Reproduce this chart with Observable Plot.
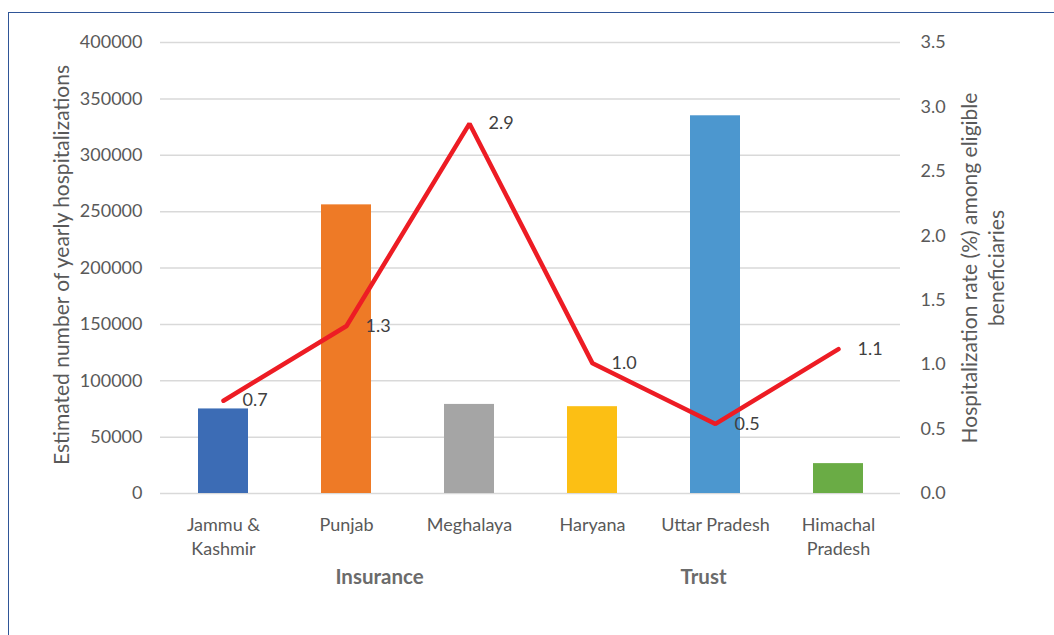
<!DOCTYPE html>
<html><head><meta charset="utf-8">
<script src="https://cdn.jsdelivr.net/npm/d3@7"></script>
<script src="https://cdn.jsdelivr.net/npm/@observablehq/plot@0.6"></script>
<style>
body{margin:0;background:#fff;}
#wrap{position:relative;width:1054px;height:635px;overflow:hidden;}
#frame{position:absolute;left:8px;top:12px;width:1200px;height:800px;border-top:1.5px solid #2F5597;border-left:1.5px solid #2F5597;pointer-events:none;}
#chart{position:absolute;left:0;top:0;}
</style></head>
<body><div id="wrap"><div id="chart"></div><div id="frame"></div></div>
<script>
const states = ["Jammu & Kashmir","Punjab","Meghalaya","Haryana","Uttar Pradesh","Himachal Pradesh"];
const stateLabels = ["Jammu &\nKashmir","Punjab","Meghalaya","Haryana","Uttar Pradesh","Himachal\nPradesh"];
const hospitalizations = [75000,256000,79000,77000,335000,26500];
const rates = [0.72,1.30,2.87,1.01,0.54,1.12];
const groupNames = ["Insurance","Trust"];
const groupAnchors = ["Punjab","Uttar Pradesh"];
const leftTicks = [0,50000,100000,150000,200000,250000,300000,350000,400000];
const rightTicks = [0,0.5,1.0,1.5,2.0,2.5,3.0,3.5];
const barColors = ["#3C6CB5","#EE7A26","#A5A5A5","#FCBF14","#4C97CF","#6AAC45"];

const leftMax = 400000, rightMax = 3.5;
const k = leftMax / rightMax;
const data = states.map((s,i)=>({state:s, label:stateLabels[i], hosp:hospitalizations[i], rate:rates[i], color:barColors[i]}));
const grey = "#595959";
const font = "Lato";

const chart = Plot.plot({
  width:1054, height:635,
  marginLeft:160, marginRight:154, marginTop:42, marginBottom:142,
  style:{fontFamily:font, fontSize:"18px", background:"transparent", color:grey, overflow:"visible"},
  x:{domain:states, paddingInner:0.595, paddingOuter:0.2975, axis:null},
  y:{domain:[0,leftMax], axis:null},
  color:{type:"identity"},
  marks:[
    Plot.ruleY(leftTicks,{stroke:"#D9D9D9", strokeWidth:1.5}),
    Plot.barY(data,{x:"state", y:"hosp", fill:"color"}),
    Plot.line(data,{x:"state", y:d=>d.rate*k, stroke:"#ED1C24", strokeWidth:4.5, strokeLinejoin:"miter", strokeLinecap:"round"}),
    Plot.text(data,{x:"state", y:d=>d.rate*k, text:d=>d.rate.toFixed(1), dx:19, textAnchor:"start", fill:"#404040", fontSize:18}),
    Plot.axisY(leftTicks,{anchor:"left", tickSize:0, tickPadding:18, label:null, color:grey, fontSize:18, tickFormat:d=>String(d)}),
    Plot.axisY(rightTicks.map(r=>r*k),{anchor:"right", tickSize:0, tickPadding:20, label:null, color:grey, fontSize:18, tickFormat:d=>(d/k).toFixed(1)}),
    Plot.text(data,{x:"state", text:"label", frameAnchor:"bottom", lineAnchor:"top", dy:20, lineHeight:1.36, fill:grey, fontSize:18}),
    Plot.text([groupNames[0]],{x:[groupAnchors[0]], frameAnchor:"bottom", lineAnchor:"top", dy:76, dx:33, fill:"#6B6B6B", fontSize:20.5, fontWeight:"bold"}),
    Plot.text([groupNames[1]],{x:[groupAnchors[1]], frameAnchor:"bottom", lineAnchor:"top", dy:76, dx:-12, fill:"#6B6B6B", fontSize:20.5, fontWeight:"bold"}),
    Plot.text(["Estimated number of yearly hospitalizations"],{frameAnchor:"left", textAnchor:"middle", dx:-98, dy:-3, rotate:-90, fill:grey, fontSize:21}),
    Plot.text(["Hospitalization rate (%) among eligible\nbeneficiaries"],{frameAnchor:"right", textAnchor:"middle", dx:81, rotate:-90, lineHeight:1.3, fill:grey, fontSize:21})
  ]
});
document.getElementById("chart").appendChild(chart);
</script>
</body></html>
